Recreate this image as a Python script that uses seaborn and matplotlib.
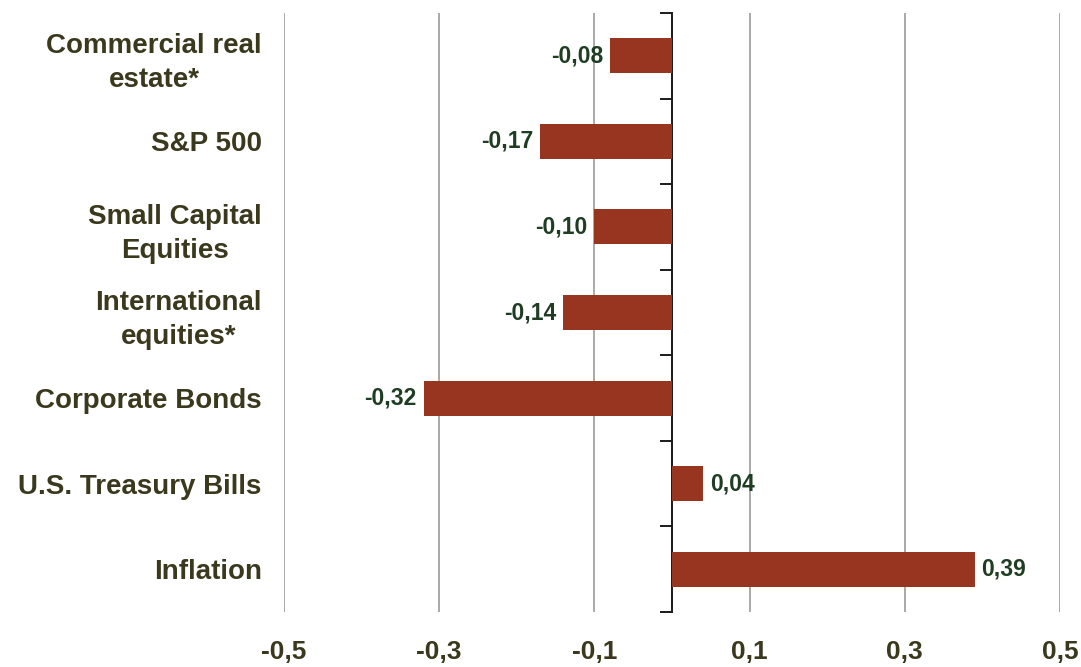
import matplotlib
matplotlib.use("Agg")
import matplotlib.pyplot as plt
import seaborn as sns
import pandas as pd
import numpy as np

categories = ["Commercial real\nestate*", "S&P 500", "Small Capital\nEquities",
              "International\nequities*", "Corporate Bonds", "U.S. Treasury Bills", "Inflation"]
values = [-0.08, -0.17, -0.10, -0.14, -0.32, 0.04, 0.39]
value_labels = ["-0,08", "-0,17", "-0,10", "-0,14", "-0,32", "0,04", "0,39"]
xticks = [-0.5, -0.3, -0.1, 0.1, 0.3, 0.5]
xtick_labels = ["-0,5", "-0,3", "-0,1", "0,1", "0,3", "0,5"]

sns.set_theme(style="white")
plt.rcParams['font.family'] = ['Liberation Sans', 'DejaVu Sans']

df = pd.DataFrame({"category": categories, "value": values})

fig = plt.figure(figsize=(10.81, 6.67), dpi=100)
ax = fig.add_axes([284/1081, 1-612/667, 776/1081, 599/667])

BAR = "#973520"
LABEL_C = "#3a391e"
VAL_C = "#1f3d22"

sns.barplot(data=df, y="category", x="value", orient="h", color=BAR,
            width=0.41, saturation=1, edgecolor="none", ax=ax)

ax.set_xlim(-0.5, 0.5)
ax.set_ylim(len(categories) - 0.5, -0.5)
ax.set_xlabel("")
ax.set_ylabel("")

# grid
ax.set_xticks(xticks)
ax.xaxis.grid(True, color="#a3a3a3", linewidth=1.3)
ax.set_axisbelow(True)
for s in ax.spines.values():
    s.set_visible(False)

ax.set_xticklabels(xtick_labels, fontsize=19, fontweight="bold", color=LABEL_C,
                   family=["Liberation Sans Narrow", "Liberation Sans", "DejaVu Sans"])
ax.tick_params(axis="x", length=0, pad=20)

ax.set_yticks(range(len(categories)))
ax.set_yticklabels(categories, fontsize=20, fontweight="bold", color=LABEL_C,
                   multialignment="center", linespacing=1.4)
ax.tick_params(axis="y", length=0, pad=16)

# zero axis with boundary ticks
sec = ax.secondary_yaxis(0.5)
for s in sec.spines.values():
    s.set_color("#1a1a1a")
    s.set_linewidth(1.4)
sec.set_yticks(np.arange(-0.5, len(categories) + 0.5, 1.0))
sec.set_yticklabels([])
sec.tick_params(axis="y", direction="in", length=9, width=1.4, color="#1a1a1a")

for i, (v, lab) in enumerate(zip(values, value_labels)):
    if v < 0:
        ax.annotate(lab, (v, i), xytext=(-5, 0), textcoords="offset points",
                    ha="right", va="center", fontsize=16.5, fontweight="bold", color=VAL_C)
    else:
        ax.annotate(lab, (v, i), xytext=(5, 0), textcoords="offset points",
                    ha="left", va="center", fontsize=16.5, fontweight="bold", color=VAL_C)

fig.savefig("out.png", dpi=100)
